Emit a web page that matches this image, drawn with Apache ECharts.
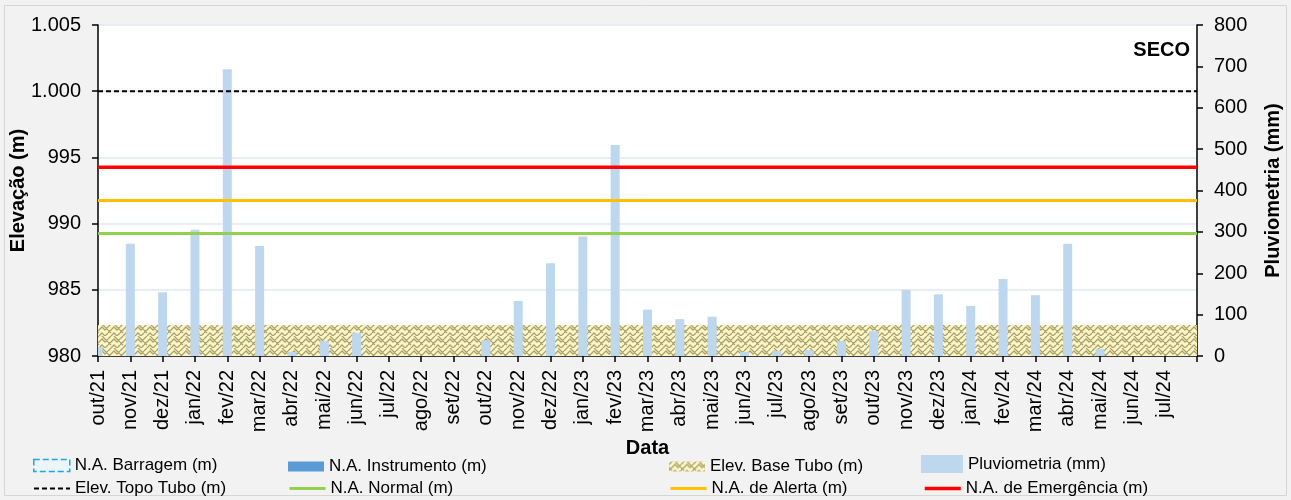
<!DOCTYPE html>
<html>
<head>
<meta charset="utf-8">
<script src="https://cdn.jsdelivr.net/npm/echarts@6/dist/echarts.min.js"></script>
<style>
html,body{margin:0;padding:0;background:#f2f2f2;}
#chart{width:1291px;height:500px;}
</style>
</head>
<body>
<div id="chart"></div>
<script>
// ---- data ----
const months = ['out/21','nov/21','dez/21','jan/22','fev/22','mar/22','abr/22','mai/22','jun/22','jul/22','ago/22','set/22',
  'out/22','nov/22','dez/22','jan/23','fev/23','mar/23','abr/23','mai/23','jun/23','jul/23','ago/23','set/23',
  'out/23','nov/23','dez/23','jan/24','fev/24','mar/24','abr/24','mai/24','jun/24','jul/24'];
const pluviometria = [22,271,154,305,693,266,10,36,56,0,0,0,38,133,224,289,510,112,89,95,10,12,14,36,60,160,149,121,186,147,271,17,0,0];
const naBarragem = [];
const naInstrumento = [];
const elevTopoTubo = 1000;
const elevBaseTubo = 982.35;
const naNormal = 989.25;
const naAlerta = 991.75;
const naEmergencia = 994.25;
const axisEnd = months.length; // axis spans to end of last month

// ---- pattern for base tubo ----
function makePattern(){
  const c = document.createElement('canvas');
  c.width = 12; c.height = 12;
  const g = c.getContext('2d');
  g.fillStyle = '#fcf5c8';
  g.fillRect(0,0,12,12);
  g.strokeStyle = '#ada36a';
  g.lineWidth = 1.3;
  g.beginPath();
  g.moveTo(0,3); g.lineTo(3,0);
  g.moveTo(0,9); g.lineTo(6,3); g.lineTo(9,6); g.lineTo(12,3);
  g.moveTo(3,12); g.lineTo(6,9); g.lineTo(9,12);
  g.moveTo(0,6); g.lineTo(3,9);
  g.moveTo(6,0); g.lineTo(12,6);
  g.moveTo(9,12); g.lineTo(12,9);
  g.stroke();
  return c;
}
const pattern = {image: makePattern(), repeat: 'repeat'};

function flat(v){ return [[0, v], [axisEnd, v]]; }

const chart = echarts.init(document.getElementById('chart'), null, {renderer:'canvas'});
const FONT = 'Liberation Sans';
const legendText = {fontFamily: FONT, fontSize: 17, color: '#000'};
function leg(name, left, top, w, h, extra){
  return {
    data: [Object.assign({name: name}, extra || {})],
    left: left, top: top, itemWidth: w, itemHeight: h, itemGap: 0,
    textStyle: legendText, padding: 0, selectedMode: false
  };
}
function lineLeg(w){ return {itemStyle: {opacity: 0}, lineStyle: {width: w}}; }

const option = {
  backgroundColor: '#f2f2f2',
  animation: false,
  grid: {left: 98, right: 94, top: 25, bottom: 144, show: true, backgroundColor: '#ffffff', borderWidth: 0,
    containLabel: false, outerBoundsMode: 'none'},
  graphic: [
    {type:'rect', shape:{x:4.5, y:5.5, width:1282, height:490}, style:{fill:'none', stroke:'#d6d6d6', lineWidth:1}, silent:true, z:-1},
    {type:'text', right: 101, top: 40, style:{text:'SECO', font:'bold 20px "Liberation Sans"', fill:'#000'}, z: 10}
  ],
  legend: [
    leg('N.A. Barragem (m)', 33, 457, 36, 12, {icon:'rect', itemStyle:{color:'#eaf5fc', borderColor:'#1fa8e8', borderType:'dashed', borderWidth:1.5}}),
    leg('N.A. Instrumento (m)', 288, 458, 36, 10, {icon:'rect', itemStyle:{color:'#5b9bd5'}}),
    leg('Elev. Base Tubo (m)', 669, 458, 36, 10, {icon:'rect', itemStyle:{color: pattern}}),
    leg('Pluviometria (mm)', 921, 455, 42, 18, {icon:'rect', itemStyle:{color:'#bdd7ee'}}),
    leg('Elev. Topo Tubo (m)', 33, 480, 36, 14, lineLeg(2)),
    leg('N.A. Normal (m)', 288, 480, 36, 14, lineLeg(3)),
    leg('N.A. de Alerta (m)', 669, 480, 36, 14, lineLeg(3)),
    leg('N.A. de Emergência (m)', 923, 480, 36, 14, lineLeg(3.5))
  ],
  xAxis: {
    type: 'value', min: 0, max: axisEnd, interval: 1,
    name: 'Data', nameLocation: 'middle', nameGap: 82, nameMoveOverlap: false,
    nameTextStyle: {fontFamily: FONT, fontSize: 20, fontWeight: 'bold', color: '#000'},
    axisLine: {show: true, lineStyle: {color: '#000', width: 1.5}},
    axisTick: {show: true, length: 6, lineStyle: {color: '#000', width: 1.5}},
    splitLine: {show: false},
    axisLabel: {rotate: 90, margin: 14, fontFamily: FONT, fontSize: 20, color: '#000',
      formatter: function(v){ return months[v] !== undefined ? months[v] : ''; }}
  },
  yAxis: [
    {
      type: 'value', min: 980, max: 1005, interval: 5, position: 'left',
      name: 'Elevação (m)', nameLocation: 'middle', nameGap: 70, nameRotate: 90, nameMoveOverlap: false,
      nameTextStyle: {fontFamily: FONT, fontSize: 20, fontWeight: 'bold', color: '#000'},
      axisLine: {show: true, lineStyle: {color: '#000', width: 1.5}},
      axisTick: {show: true, length: 6, lineStyle: {color: '#000', width: 1.5}},
      splitLine: {show: true, lineStyle: {color: '#dfe8f3', width: 1.5}},
      axisLabel: {margin: 17, fontFamily: FONT, fontSize: 20, color: '#000',
        formatter: function(v){ return v >= 1000 ? '1.' + String(Math.round(v - 1000)).padStart(3, '0') : String(v); }}
    },
    {
      type: 'value', min: 0, max: 800, interval: 100, position: 'right',
      name: 'Pluviometria (mm)', nameLocation: 'middle', nameGap: 66, nameRotate: 90, nameMoveOverlap: false,
      nameTextStyle: {fontFamily: FONT, fontSize: 20, fontWeight: 'bold', color: '#000'},
      axisLine: {show: true, lineStyle: {color: '#000', width: 1.5}},
      axisTick: {show: true, length: 6, lineStyle: {color: '#000', width: 1.5}},
      splitLine: {show: false},
      axisLabel: {margin: 17, fontFamily: FONT, fontSize: 20, color: '#000'}
    }
  ],
  series: [
    {name: 'N.A. Barragem (m)', type: 'line', yAxisIndex: 0, data: naBarragem, symbol: 'none',
      lineStyle: {color: '#1fa8e8', type: 'dashed'}, areaStyle: {color: '#eaf5fc'}},
    {name: 'N.A. Instrumento (m)', type: 'line', yAxisIndex: 0, data: naInstrumento, symbol: 'none',
      lineStyle: {color: '#5b9bd5'}, areaStyle: {color: '#5b9bd5'}},
    {name: 'Elev. Base Tubo (m)', type: 'line', yAxisIndex: 0, data: flat(elevBaseTubo), symbol: 'none',
      lineStyle: {width: 0}, itemStyle: {color: pattern}, areaStyle: {color: pattern, opacity: 1, origin: 'start'}, z: 1},
    {name: 'Pluviometria (mm)', type: 'custom', yAxisIndex: 1, z: 2,
      data: pluviometria.map(function(v, i){ return [i, v]; }),
      itemStyle: {color: '#bdd7ee'},
      encode: {x: 0, y: 1},
      renderItem: function(params, api){
        const x = api.value(0), v = api.value(1);
        if (!v) return null;
        const top = api.coord([x, v]);
        const base = api.coord([x, 0]);
        const rect = {x: top[0] - 4.5, y: top[1], width: 9, height: base[1] - top[1]};
        const cs = params.coordSys;
        const clipped = echarts.graphic.clipRectByRect(rect, {x: cs.x, y: cs.y, width: cs.width, height: cs.height});
        if (!clipped) return null;
        return {type: 'rect', shape: clipped, style: {fill: '#bdd7ee'}};
      }},
    {name: 'Elev. Topo Tubo (m)', type: 'line', yAxisIndex: 0, data: flat(elevTopoTubo), symbol: 'none',
      lineStyle: {color: '#000', width: 2, type: [5, 3]}, itemStyle: {color: '#000'}, z: 3},
    {name: 'N.A. Normal (m)', type: 'line', yAxisIndex: 0, data: flat(naNormal), symbol: 'none',
      lineStyle: {color: '#92d050', width: 3}, itemStyle: {color: '#92d050'}, z: 3},
    {name: 'N.A. de Alerta (m)', type: 'line', yAxisIndex: 0, data: flat(naAlerta), symbol: 'none',
      lineStyle: {color: '#ffc000', width: 3}, itemStyle: {color: '#ffc000'}, z: 3},
    {name: 'N.A. de Emergência (m)', type: 'line', yAxisIndex: 0, data: flat(naEmergencia), symbol: 'none',
      lineStyle: {color: '#ff0000', width: 3.5}, itemStyle: {color: '#ff0000'}, z: 3}
  ]
};
chart.setOption(option);
</script>
</body>
</html>
